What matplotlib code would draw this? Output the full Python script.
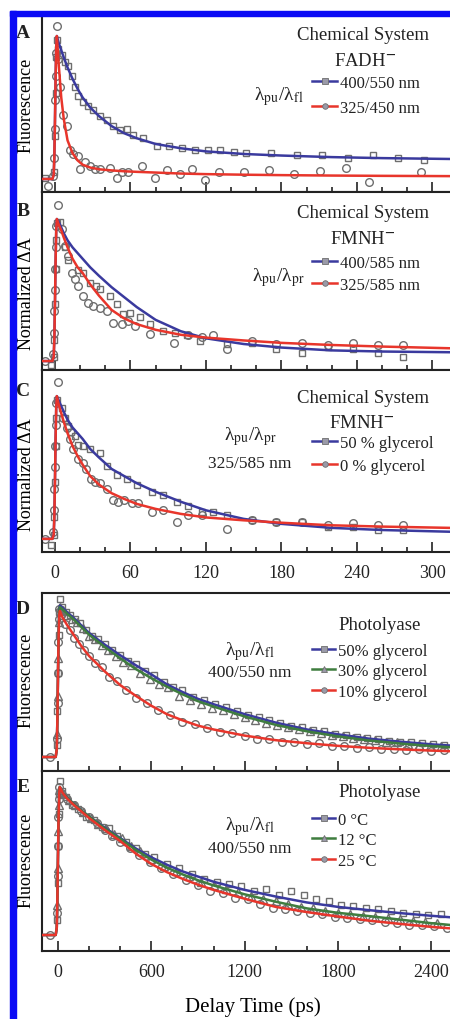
import matplotlib
matplotlib.use('Agg')
import matplotlib.pyplot as plt
from matplotlib.lines import Line2D
from matplotlib.patches import Rectangle
from matplotlib.ticker import MultipleLocator

# ---------------- data (amplitude normalised to peak) ----------------
# panels A-C : delay 0-300 ps
FAST_FIT_T = [-10.3, -2, -1, -0.5, 0, 0.5, 1, 1.5, 3, 5, 7, 10, 14, 18, 22, 28, 35, 45, 55, 65,
              80, 100, 120, 150, 180, 220, 260, 314]

A_FIT_BLUE = [0, 0, 0.03, 0.15, 0.4, 0.7, 0.92, 1.0, 0.95, 0.9, 0.85, 0.78, 0.7, 0.63, 0.57, 0.5,
              0.44, 0.37, 0.32, 0.285, 0.245, 0.215, 0.193, 0.175, 0.164, 0.153, 0.146, 0.14]
A_FIT_RED = [0, 0, 0.03, 0.15, 0.4, 0.7, 0.92, 1.0, 0.8, 0.57, 0.42, 0.27, 0.18, 0.13, 0.1, 0.08,
             0.068, 0.06, 0.054, 0.05, 0.045, 0.038, 0.034, 0.03, 0.027, 0.024, 0.022, 0.02]
A_SQ_T = [-8, -1, 0, 0.5, 1, 1.5, 2.6, 5.3, 8, 10.6, 13.2, 15.9, 18.5, 22.5, 26.5, 30.4, 35.8, 41,
          46, 52, 57, 62, 70, 81, 91, 101, 111, 122, 131, 142, 152, 172, 192, 212, 233, 253, 273, 293]
A_SQ_Y = [0.01, 0.05, 0.3, 0.6, 0.85, 0.97, 0.91, 0.87, 0.82, 0.79, 0.72, 0.64, 0.58, 0.54, 0.51,
          0.48, 0.44, 0.41, 0.37, 0.34, 0.35, 0.31, 0.29, 0.23, 0.23, 0.22, 0.2, 0.2, 0.2, 0.19, 0.18,
          0.18, 0.17, 0.17, 0.15, 0.17, 0.15, 0.13]
A_CI_T = [-5.6, -1.2, -0.6, 0, 0.4, 0.8, 1.2, 1.6, 2.6, 3.9, 6.6, 9.3, 11.9, 14.6, 18.6, 19.9, 23.8,
          27.8, 31.8, 35.8, 43.7, 49, 53, 58, 69, 79.5, 89, 99.5, 109, 119, 130, 150, 170, 190, 211,
          231, 250, 291]
A_CI_Y = [-0.05, 0.02, 0.15, 0.35, 0.55, 0.72, 0.88, 1.07, 0.84, 0.64, 0.45, 0.37, 0.2, 0.175, 0.16,
          0.07, 0.12, 0.09, 0.07, 0.07, 0.08, 0.01, 0.05, 0.05, 0.09, 0.01, 0.06, 0.035, 0.07, -0.01,
          0.05, 0.05, 0.065, 0.035, 0.055, 0.08, -0.02, 0.05]

B_FIT_BLUE = [0, 0, 0.03, 0.15, 0.4, 0.7, 0.92, 1.0, 0.98, 0.94, 0.9, 0.85, 0.8, 0.76, 0.72, 0.66,
              0.6, 0.52, 0.45, 0.38, 0.29, 0.21, 0.16, 0.12, 0.095, 0.075, 0.067, 0.062]
B_FIT_RED = [0, 0, 0.03, 0.15, 0.4, 0.7, 0.92, 1.0, 0.96, 0.92, 0.87, 0.8, 0.72, 0.66, 0.62, 0.54,
             0.46, 0.36, 0.3, 0.26, 0.22, 0.185, 0.165, 0.145, 0.128, 0.113, 0.102, 0.09]
B_SQ_T = [-3, -1, -0.5, 0, 0.5, 1, 1.5, 3.9, 7.9, 10.6, 18.6, 22.5, 28, 33, 36, 43.7, 49, 54, 60,
          67.5, 75.5, 86, 95.4, 105, 115, 137, 157, 176, 196, 217, 237, 257, 277]
B_SQ_Y = [-0.03, 0.03, 0.15, 0.4, 0.65, 0.85, 0.97, 0.98, 0.8, 0.71, 0.64, 0.62, 0.55, 0.53, 0.51,
          0.46, 0.4, 0.33, 0.34, 0.31, 0.26, 0.21, 0.2, 0.18, 0.14, 0.12, 0.13, 0.085, 0.06, 0.1,
          0.085, 0.06, 0.025]
B_CI_T = [-8, -1.2, -0.8, -0.4, 0, 0.4, 0.8, 1.2, 2.6, 5.3, 8, 10.6, 13.2, 16, 18.6, 22.5, 26.5,
          30.4, 36, 41, 46, 53, 58, 63.6, 75.5, 95, 106, 117, 126, 137, 157, 176, 196, 217, 237,
          257, 277]
B_CI_Y = [0.0, 0.05, 0.2, 0.35, 0.5, 0.65, 0.8, 0.95, 1.1, 0.93, 0.81, 0.74, 0.62, 0.58, 0.53, 0.46,
          0.41, 0.39, 0.37, 0.35, 0.27, 0.26, 0.28, 0.25, 0.19, 0.13, 0.18, 0.17, 0.18, 0.085, 0.14,
          0.12, 0.13, 0.11, 0.125, 0.115, 0.11]

C_FIT_BLUE = [0, 0, 0.03, 0.15, 0.4, 0.7, 0.92, 1.0, 0.97, 0.93, 0.89, 0.835, 0.78, 0.74, 0.7, 0.63,
              0.57, 0.49, 0.44, 0.39, 0.33, 0.26, 0.2, 0.14, 0.105, 0.077, 0.062, 0.05]
C_FIT_RED = [0, 0, 0.03, 0.15, 0.4, 0.7, 0.92, 1.0, 0.94, 0.88, 0.82, 0.74, 0.65, 0.58, 0.52, 0.44,
             0.38, 0.32, 0.28, 0.245, 0.21, 0.175, 0.15, 0.13, 0.113, 0.095, 0.086, 0.077]
C_SQ_T = [-3, -1, -0.5, 0, 0.5, 1, 1.5, 5.3, 8, 10.6, 13, 16, 18.6, 22.5, 28, 36, 41, 49, 57, 65,
          77, 86, 97, 106, 117, 126, 137, 157, 176, 196, 217, 237, 257, 277]
C_SQ_Y = [-0.04, 0.03, 0.15, 0.4, 0.65, 0.85, 0.97, 0.92, 0.85, 0.79, 0.75, 0.72, 0.66, 0.65, 0.63,
          0.6, 0.51, 0.45, 0.42, 0.38, 0.33, 0.31, 0.26, 0.23, 0.19, 0.19, 0.17, 0.13, 0.12, 0.12,
          0.08, 0.085, 0.06, 0.06]
C_CI_T = [-8, -1.2, -0.8, -0.4, 0, 0.4, 0.8, 1.2, 2.6, 6.6, 9.3, 11.9, 14.6, 18.6, 22.5, 25, 29, 32,
          36, 41, 46, 50, 55, 61, 66, 77, 86, 97, 106, 117, 137, 157, 176, 196, 217, 237, 257, 277]
C_CI_Y = [0.0, 0.05, 0.2, 0.35, 0.5, 0.65, 0.8, 0.95, 1.1, 0.85, 0.775, 0.7, 0.63, 0.56, 0.53, 0.49,
          0.42, 0.4, 0.39, 0.35, 0.27, 0.26, 0.27, 0.25, 0.25, 0.19, 0.2, 0.12, 0.165, 0.165, 0.07,
          0.13, 0.12, 0.12, 0.095, 0.11, 0.1, 0.1]

# panels D-E : delay 0-2500 ps
SLOW_FIT_T = [-103, -15, -8, -4, 0, 4, 8, 12, 30, 60, 100, 150, 200, 300, 400, 500, 600, 700, 800,
              900, 1000, 1200, 1400, 1600, 1800, 2000, 2200, 2400, 2521]

D_FIT_BLUE = [0, 0, 0.05, 0.25, 0.55, 0.82, 0.96, 0.99, 0.975, 0.945, 0.91, 0.86, 0.81, 0.735,
              0.665, 0.6, 0.54, 0.475, 0.425, 0.38, 0.345, 0.28, 0.225, 0.18, 0.148, 0.12, 0.1,
              0.083, 0.075]
D_FIT_GREEN = [0, 0, 0.05, 0.25, 0.55, 0.82, 0.95, 0.98, 0.965, 0.935, 0.9, 0.85, 0.8, 0.72, 0.645,
               0.575, 0.515, 0.46, 0.41, 0.365, 0.33, 0.265, 0.21, 0.168, 0.135, 0.108, 0.088,
               0.072, 0.064]
D_FIT_RED = [0, 0, 0.05, 0.25, 0.55, 0.8, 0.93, 0.955, 0.91, 0.86, 0.8, 0.725, 0.66, 0.56, 0.47,
             0.4, 0.335, 0.28, 0.24, 0.205, 0.18, 0.14, 0.11, 0.09, 0.073, 0.06, 0.05, 0.042, 0.038]
D_SQ_T = [-8, -4, 0, 4, 8, 12, 25, 50, 80, 110, 140, 180, 220, 260, 300, 350, 400, 450, 500, 560,
          620, 680, 740, 800, 870, 940, 1010, 1080, 1150, 1220, 1290, 1360, 1430, 1500, 1570, 1640,
          1710, 1780, 1850, 1920, 1990, 2060, 2130, 2200, 2270, 2340, 2410, 2480]
D_SQ_Y = [0.08, 0.3, 0.55, 0.8, 0.95, 1.03, 0.98, 0.95, 0.93, 0.9, 0.875, 0.83, 0.79, 0.77, 0.74,
          0.7, 0.67, 0.63, 0.605, 0.565, 0.535, 0.49, 0.455, 0.435, 0.395, 0.375, 0.345, 0.325, 0.3,
          0.275, 0.26, 0.24, 0.22, 0.205, 0.195, 0.175, 0.168, 0.15, 0.145, 0.13, 0.125, 0.115,
          0.105, 0.1, 0.1, 0.09, 0.085, 0.08]
D_TR_T = [-6, -2, 2, 6, 10, 30, 60, 90, 120, 160, 200, 240, 280, 320, 370, 420, 470, 530, 590, 650,
          710, 780, 850, 920, 990, 1060, 1130, 1200, 1270, 1340, 1410, 1480, 1550, 1620, 1690, 1760,
          1830, 1900, 1970, 2040, 2110, 2180, 2250, 2320, 2390, 2460]
D_TR_Y = [0.15, 0.4, 0.65, 0.88, 0.98, 0.96, 0.93, 0.905, 0.88, 0.84, 0.79, 0.77, 0.73, 0.7, 0.66,
          0.62, 0.6, 0.55, 0.51, 0.475, 0.455, 0.4, 0.375, 0.345, 0.32, 0.305, 0.28, 0.26, 0.245,
          0.22, 0.21, 0.195, 0.18, 0.17, 0.155, 0.145, 0.135, 0.125, 0.12, 0.11, 0.1, 0.095, 0.085,
          0.08, 0.075, 0.07]
D_CI_T = [-50, -6, -3, 0, 3, 6, 9, 20, 45, 75, 105, 135, 165, 200, 240, 280, 330, 380, 440, 500,
          570, 640, 720, 800, 880, 960, 1040, 1120, 1200, 1280, 1360, 1440, 1520, 1600, 1680, 1760,
          1840, 1920, 2000, 2080, 2160, 2240, 2320, 2400, 2480]
D_CI_Y = [0.0, 0.12, 0.35, 0.55, 0.75, 0.9, 0.97, 0.93, 0.87, 0.83, 0.78, 0.74, 0.7, 0.66, 0.615,
          0.59, 0.525, 0.495, 0.44, 0.385, 0.355, 0.31, 0.275, 0.23, 0.215, 0.19, 0.165, 0.16, 0.14,
          0.12, 0.115, 0.1, 0.1, 0.085, 0.09, 0.07, 0.075, 0.06, 0.065, 0.05, 0.055, 0.045, 0.05,
          0.04, 0.045]

E_FIT_BLUE = [0, 0, 0.05, 0.25, 0.55, 0.82, 0.96, 1.0, 0.96, 0.925, 0.885, 0.84, 0.8, 0.725, 0.655,
              0.585, 0.525, 0.475, 0.43, 0.395, 0.36, 0.305, 0.26, 0.22, 0.19, 0.168, 0.148, 0.13,
              0.12]
E_FIT_GREEN = [0, 0, 0.05, 0.25, 0.55, 0.82, 0.96, 1.0, 0.96, 0.925, 0.885, 0.84, 0.8, 0.72, 0.65,
               0.575, 0.51, 0.455, 0.41, 0.37, 0.335, 0.275, 0.225, 0.18, 0.15, 0.128, 0.104, 0.08,
               0.068]
E_FIT_RED = [0, 0, 0.05, 0.25, 0.55, 0.82, 0.96, 1.0, 0.96, 0.92, 0.88, 0.835, 0.79, 0.71, 0.635,
             0.55, 0.48, 0.425, 0.38, 0.34, 0.305, 0.245, 0.19, 0.155, 0.125, 0.097, 0.075, 0.055,
             0.045]
E_SQ_T = [-5, -2, 1, 4, 7, 10, 25, 50, 90, 130, 180, 230, 280, 330, 380, 440, 500, 560, 620, 700,
          780, 860, 940, 1020, 1100, 1180, 1260, 1340, 1420, 1500, 1580, 1660, 1740, 1820, 1900,
          1980, 2060, 2140, 2220, 2300, 2380, 2460]
E_SQ_Y = [0.1, 0.35, 0.6, 0.82, 0.95, 1.04, 0.97, 0.93, 0.875, 0.85, 0.8, 0.78, 0.73, 0.72, 0.67,
          0.63, 0.59, 0.55, 0.53, 0.48, 0.45, 0.41, 0.38, 0.36, 0.345, 0.33, 0.3, 0.31, 0.27, 0.3,
          0.27, 0.24, 0.23, 0.2, 0.195, 0.18, 0.175, 0.16, 0.15, 0.145, 0.135, 0.14]
E_TR_T = [-4, -1, 2, 5, 8, 40, 70, 110, 160, 210, 260, 310, 360, 410, 470, 530, 600, 680, 760, 840,
          920, 1000, 1080, 1160, 1240, 1320, 1400, 1480, 1560, 1640, 1720, 1800, 1880, 1960, 2040,
          2120, 2200, 2280, 2360, 2440]
E_TR_Y = [0.2, 0.45, 0.7, 0.88, 0.98, 0.95, 0.91, 0.875, 0.83, 0.79, 0.75, 0.72, 0.68, 0.655, 0.6,
          0.565, 0.515, 0.465, 0.43, 0.4, 0.36, 0.34, 0.31, 0.29, 0.265, 0.245, 0.23, 0.21, 0.19,
          0.18, 0.165, 0.15, 0.145, 0.13, 0.125, 0.115, 0.105, 0.095, 0.09, 0.08]
E_CI_T = [-50, -6, -3, 0, 3, 6, 9, 20, 60, 100, 150, 200, 250, 300, 350, 400, 460, 520, 590, 660,
          740, 820, 900, 980, 1060, 1140, 1220, 1300, 1380, 1460, 1540, 1620, 1700, 1780, 1860,
          1940, 2020, 2100, 2180, 2260, 2340, 2420, 2500]
E_CI_Y = [0.0, 0.15, 0.4, 0.6, 0.8, 0.92, 1.0, 0.96, 0.92, 0.88, 0.84, 0.8, 0.76, 0.71, 0.67, 0.63,
          0.59, 0.54, 0.49, 0.45, 0.41, 0.37, 0.335, 0.3, 0.285, 0.25, 0.24, 0.21, 0.185, 0.175,
          0.16, 0.15, 0.14, 0.12, 0.115, 0.105, 0.1, 0.085, 0.08, 0.07, 0.065, 0.06, 0.05]

FAST_TICKS = [0, 60, 120, 180, 240, 300]
SLOW_TICKS = [0, 600, 1200, 1800, 2400]

# ---------------- style ----------------
BLUE = '#3a3a9e'
RED = '#e8352b'
GREEN = '#3f7d3f'
GREY = '#6e6e6e'
INK = '#222222'
FRAME = '#0b0bf5'

plt.rcParams['font.family'] = ['Liberation Serif', 'DejaVu Serif']
plt.rcParams['mathtext.fontset'] = 'stix'
plt.rcParams['text.color'] = INK

W, H = 450, 1020
fig = plt.figure(figsize=(W / 100, H / 100), dpi=100)


def fpos(x, y):
    return x / W, 1 - y / H


def make_axes(top, bottom, xlim, ylim, major, minor, show_top=True):
    ax = fig.add_axes([42 / W, 1 - bottom / H, 408 / W, (bottom - top) / H])
    ax.set_xlim(*xlim)
    ax.set_ylim(*ylim)
    ax.xaxis.set_major_locator(MultipleLocator(major))
    ax.xaxis.set_minor_locator(MultipleLocator(minor))
    ax.tick_params(axis='x', which='major', direction='in', length=7, width=1.2,
                   color=INK, labelsize=13, labelcolor=INK, pad=8.5, labelbottom=False)
    ax.tick_params(axis='x', which='minor', direction='in', length=3.5, width=1.2, color=INK)
    ax.tick_params(axis='y', left=False, labelleft=False)
    for side in ['left', 'bottom', 'top']:
        ax.spines[side].set_linewidth(1.5)
        ax.spines[side].set_color(INK)
    ax.spines['right'].set_visible(False)
    ax.spines['top'].set_visible(show_top)
    return ax


def data(ax, t, y, marker, ms):
    ax.plot(t, y, ls='none', marker=marker, ms=ms, mfc='none', mec=GREY, mew=1.0, zorder=2)


def fit(ax, t, y, color):
    ax.plot(t, y, color=color, lw=1.8, zorder=3)


def legend(ax, colors, markers, labels, x, y, spacing, hl):
    handles = [Line2D([], [], color=c, lw=1.8, marker=m, ms=4, mfc='#9a9aa8', mec=GREY, mew=0.6)
               for c, m in zip(colors, markers)]
    ax.legend(handles, labels, loc='upper left', bbox_to_anchor=fpos(x, y),
              bbox_transform=fig.transFigure, frameon=False, fontsize=12, handlelength=hl,
              handletextpad=0.15, labelspacing=spacing, borderpad=0, borderaxespad=0,
              labelcolor=INK)


def ylabel(ax, text, cy, top, bottom):
    ax.set_ylabel(text, fontsize=13, va='center')
    ax.yaxis.set_label_coords((26.5 - 42) / 408, (bottom - cy) / (bottom - top))


def label(x, y, s, size=12.5, **kw):
    fig.text(*fpos(x, y), s, fontsize=size, ha='center', va='center', **kw)


LAM_FL = 'λ$_{\\rm pu}$/λ$_{\\rm fl}$'
LAM_PR = 'λ$_{\\rm pu}$/λ$_{\\rm pr}$'

# ---------------- panel A ----------------
axA = make_axes(17, 193, (-10.3, 314), (-0.091, 1.14), 60, 20, show_top=False)
data(axA, A_SQ_T, A_SQ_Y, 's', 5)
data(axA, A_CI_T, A_CI_Y, 'o', 5.5)
fit(axA, FAST_FIT_T, A_FIT_BLUE, BLUE)
fit(axA, FAST_FIT_T, A_FIT_RED, RED)
ylabel(axA, 'Fluorescence', 105, 17, 193)
legend(axA, [BLUE, RED], ['s', 'o'], ['400/550 nm', '325/450 nm'], 312, 75.8, 0.57, 1.5)
label(363, 35, 'Chemical System', 13.5)
label(365, 61, 'FADH$^{\\mathbf{-}}$', 13.5)
label(279, 97, LAM_FL, 14)

# ---------------- panel B ----------------
axB = make_axes(193, 371, (-10.3, 314), (-0.063, 1.19), 60, 20)
data(axB, B_SQ_T, B_SQ_Y, 's', 5)
data(axB, B_CI_T, B_CI_Y, 'o', 5.5)
fit(axB, FAST_FIT_T, B_FIT_BLUE, BLUE)
fit(axB, FAST_FIT_T, B_FIT_RED, RED)
ylabel(axB, 'Normalized ΔA', 294, 193, 371)
legend(axB, [BLUE, RED], ['s', 'o'], ['400/585 nm', '325/585 nm'], 312, 255.8, 0.36, 1.5)
label(363, 214, 'Chemical System', 13.5)
label(363, 240, 'FMNH$^{\\mathbf{-}}$', 13.5)
label(278, 278, LAM_PR, 14)

# ---------------- panel C ----------------
axC = make_axes(371, 553, (-10.3, 314), (-0.092, 1.183), 60, 20)
data(axC, C_SQ_T, C_SQ_Y, 's', 5)
data(axC, C_CI_T, C_CI_Y, 'o', 5.5)
fit(axC, FAST_FIT_T, C_FIT_BLUE, BLUE)
fit(axC, FAST_FIT_T, C_FIT_RED, RED)
axC.set_xticks(FAST_TICKS)
axC.tick_params(axis='x', which='major', labelbottom=True)
ylabel(axC, 'Normalized ΔA', 475, 371, 553)
legend(axC, [BLUE, RED], ['s', 'o'], ['50 % glycerol', '0 % glycerol'], 312, 435.8, 0.45, 1.5)
label(363, 399, 'Chemical System', 13.5)
label(362, 424, 'FMNH$^{\\mathbf{-}}$', 13.5)
label(250, 437, LAM_PR, 14)
label(250, 464, '325/585 nm', 12.5)

# ---------------- panel D ----------------
axD = make_axes(594, 772, (-103, 2521), (-0.0915, 1.072), 600, 200)
data(axD, D_SQ_T, D_SQ_Y, 's', 5)
data(axD, D_TR_T, D_TR_Y, '^', 5.5)
data(axD, D_CI_T, D_CI_Y, 'o', 5.5)
fit(axD, SLOW_FIT_T, D_FIT_BLUE, BLUE)
fit(axD, SLOW_FIT_T, D_FIT_GREEN, GREEN)
fit(axD, SLOW_FIT_T, D_FIT_RED, RED)
ylabel(axD, 'Fluorescence', 680, 594, 772)
legend(axD, [BLUE, GREEN, RED], ['s', '^', 'o'],
       ['50% glycerol', '30% glycerol', '10% glycerol'], 312, 643.8, 0.27, 1.38)
label(380, 625, 'Photolyase', 13.5)
label(250, 652, LAM_FL, 14)
label(250, 673, '400/550 nm', 12.5)

# ---------------- panel E ----------------
axE = make_axes(772, 952, (-103, 2521), (-0.108, 1.108), 600, 200)
data(axE, E_SQ_T, E_SQ_Y, 's', 5)
data(axE, E_TR_T, E_TR_Y, '^', 5.5)
data(axE, E_CI_T, E_CI_Y, 'o', 5.5)
fit(axE, SLOW_FIT_T, E_FIT_BLUE, BLUE)
fit(axE, SLOW_FIT_T, E_FIT_GREEN, GREEN)
fit(axE, SLOW_FIT_T, E_FIT_RED, RED)
axE.set_xticks(SLOW_TICKS)
axE.tick_params(axis='x', which='major', labelbottom=True)
ylabel(axE, 'Fluorescence', 860, 772, 952)
axE.set_xlabel('Delay Time (ps)', fontsize=15, va='center')
axE.xaxis.set_label_coords((253 - 42) / 408, (952 - 1007) / 180)
legend(axE, [BLUE, GREEN, RED], ['s', '^', 'o'], ['0 °C', '12 °C', '25 °C'], 312, 812.8, 0.27, 1.38)
label(380, 793, 'Photolyase', 13.5)
label(250, 827, LAM_FL, 14)
label(250, 849, '400/550 nm', 12.5)

# panel letters
for letter, y in zip('ABCDE', [33, 212, 392, 609, 787]):
    label(23, y, letter, 14, fontweight='bold')

# blue frame round the figure (top and left edges)
fig.add_artist(Rectangle(fpos(10, 1020), 6 / W, 1008 / H, transform=fig.transFigure,
                         color=FRAME, zorder=10))
fig.add_artist(Rectangle(fpos(10, 17), 440 / W, 5 / H, transform=fig.transFigure,
                         color=FRAME, zorder=10))

fig.savefig('out.png', dpi=100)
